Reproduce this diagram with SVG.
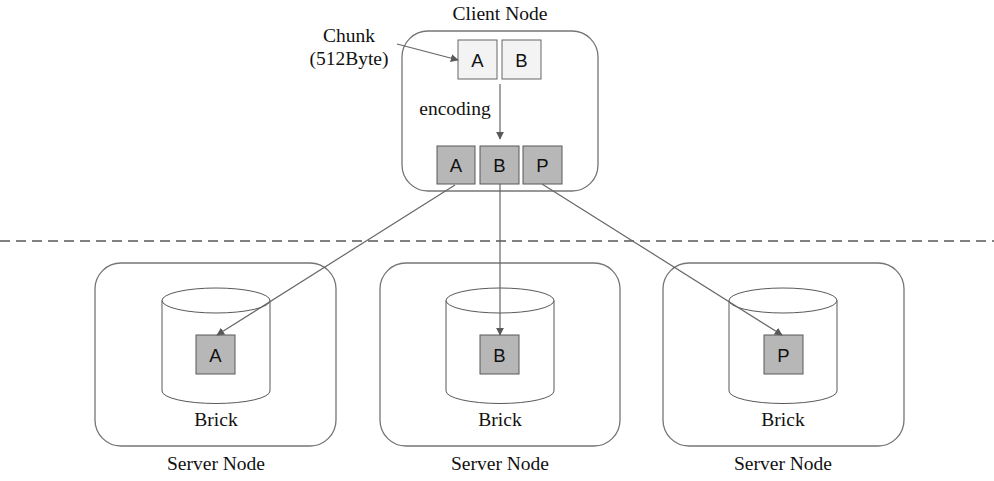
<svg xmlns="http://www.w3.org/2000/svg" width="994" height="481" viewBox="0 0 994 481">
  <style>
    .node { fill: #ffffff; stroke: #757575; stroke-width: 1.3; }
    .cyl { fill: #ffffff; stroke: #595959; stroke-width: 1; }
    .light { fill: #f3f3f3; stroke: #666666; stroke-width: 1; }
    .dark { fill: #b7b7b7; stroke: #595959; stroke-width: 1; }
    .blk { font-family: "Liberation Sans", Arial, sans-serif; font-size: 18.5px; fill: #111111; text-anchor: middle; }
    .lbl { font-family: "Liberation Serif", "Times New Roman", serif; font-size: 19.5px; fill: #111111; text-anchor: middle; }
    .edge { stroke: #666666; stroke-width: 1.2; fill: none; marker-end: url(#arrow); }
  </style>
  <defs>
    <marker id="arrow" viewBox="0 0 10 10" refX="9" refY="5" markerWidth="8" markerHeight="8" markerUnits="userSpaceOnUse" orient="auto">
      <path d="M0,0 L10,5 L0,10 z" fill="#595959"/>
    </marker>
  </defs>

  <rect width="994" height="481" fill="#ffffff"/>

  <!-- client node -->
  <g id="client-node">
    <rect class="node" x="402" y="31" width="196" height="160" rx="26"/>
    <text class="lbl" x="500" y="20">Client Node</text>
    <rect class="light" x="458" y="40" width="39" height="39"/>
    <text class="blk" x="477.5" y="66.5">A</text>
    <rect class="light" x="502" y="40" width="39" height="39"/>
    <text class="blk" x="521.5" y="66.5">B</text>
    <rect class="dark" x="437" y="146" width="38" height="38"/>
    <text class="blk" x="456" y="171.5">A</text>
    <rect class="dark" x="480" y="146" width="39" height="38"/>
    <text class="blk" x="499.5" y="171.5">B</text>
    <rect class="dark" x="523" y="146" width="39" height="38"/>
    <text class="blk" x="542.5" y="171.5">P</text>
    <text class="lbl" x="455" y="115">encoding</text>
  </g>

  <g id="chunk-label">
    <text class="lbl" x="349" y="42">Chunk</text>
    <text class="lbl" x="349" y="65">(512Byte)</text>
  </g>

  <!-- tier divider -->
  <line x1="0" y1="241" x2="994" y2="241" stroke="#595959" stroke-width="1.6" stroke-dasharray="10 6"/>

  <!-- server nodes -->
  <g id="server-a">
    <rect class="node" x="95" y="263" width="241" height="183" rx="26"/>
    <path class="cyl" d="M162,300.5 L162,391 A54,12.5 0 0 0 270,391 L270,300.5 A54,12.5 0 0 0 162,300.5 A54,12.5 0 0 0 270,300.5"/>
    <rect class="dark" x="196" y="335" width="39" height="39"/>
    <text class="blk" x="215.5" y="361.5">A</text>
    <text class="lbl" x="216" y="426">Brick</text>
    <text class="lbl" x="216" y="470">Server Node</text>
  </g>
  <g id="server-b">
    <rect class="node" x="380" y="263" width="240" height="183" rx="26"/>
    <path class="cyl" d="M446,300.5 L446,391 A54,12.5 0 0 0 554,391 L554,300.5 A54,12.5 0 0 0 446,300.5 A54,12.5 0 0 0 554,300.5"/>
    <rect class="dark" x="480" y="335" width="39" height="39"/>
    <text class="blk" x="499.5" y="361.5">B</text>
    <text class="lbl" x="500" y="426">Brick</text>
    <text class="lbl" x="500" y="470">Server Node</text>
  </g>
  <g id="server-p">
    <rect class="node" x="663" y="263" width="241" height="183" rx="26"/>
    <path class="cyl" d="M729,300.5 L729,391 A54,12.5 0 0 0 837,391 L837,300.5 A54,12.5 0 0 0 729,300.5 A54,12.5 0 0 0 837,300.5"/>
    <rect class="dark" x="764" y="335" width="39" height="39"/>
    <text class="blk" x="783.5" y="361.5">P</text>
    <text class="lbl" x="783" y="426">Brick</text>
    <text class="lbl" x="783" y="470">Server Node</text>
  </g>

  <!-- connectors -->
  <g id="connectors">
    <line class="edge" x1="397" y1="44" x2="458" y2="60"/>
    <line class="edge" x1="500" y1="84" x2="500" y2="139"/>
    <line class="edge" x1="455" y1="185" x2="217" y2="335"/>
    <line class="edge" x1="500" y1="184" x2="500" y2="335"/>
    <line class="edge" x1="542" y1="184" x2="782" y2="335"/>
  </g>
</svg>
